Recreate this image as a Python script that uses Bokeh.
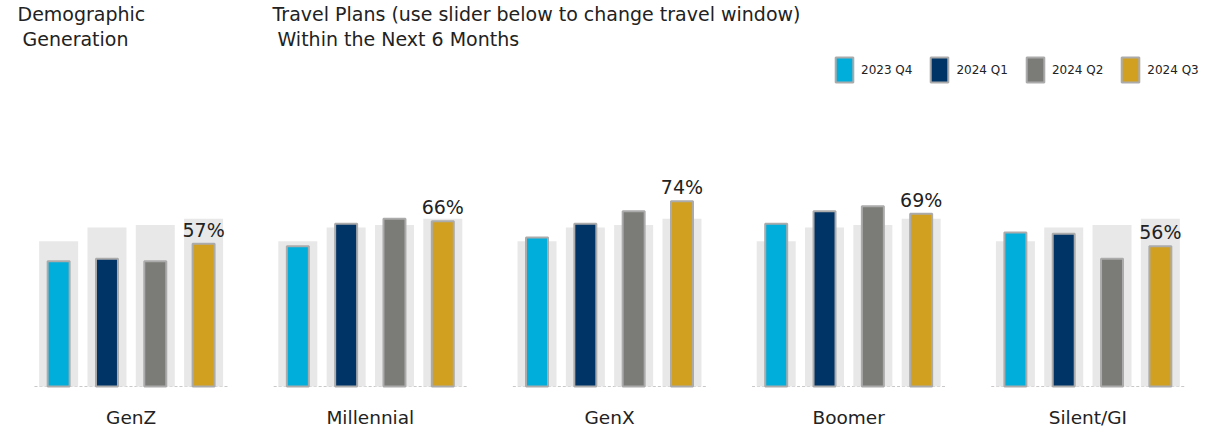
from bokeh.plotting import figure
from bokeh.models import (ColumnDataSource, FactorRange, Range1d, Label, Legend, LegendItem,
                          CategoricalAxis)
from bokeh.core.properties import value
from bokeh.embed import file_html
from bokeh.resources import INLINE

# ---- data ----
generations = ["GenZ", "Millennial", "GenX", "Boomer", "Silent/GI"]
quarters = ["2023 Q4", "2024 Q1", "2024 Q2", "2024 Q3"]
q4_2023 = [50, 56, 59.5, 65, 61.5]
q1_2024 = [51, 65, 65, 70, 61]
q2_2024 = [50, 67, 70, 72, 51]
q3_2024 = [57, 66, 74, 69, 56]
overall = [58, 63.5, 64.5, 67]   # grey reference bars (all generations), per quarter

colors = ["#00AEDB", "#003366", "#7B7C77", "#D1A021"]
series = [q4_2023, q1_2024, q2_2024, q3_2024]

FONT = "DejaVu Sans"
TXT = "#222222"

x, top, qs, cols, bg_top = [], [], [], [], []
for gi, g in enumerate(generations):
    for qi, q in enumerate(quarters):
        x.append((g, q))
        top.append(series[qi][gi])
        qs.append(q)
        cols.append(colors[qi])
        bg_top.append(overall[qi])

fg_src = ColumnDataSource(dict(x=x, top=top, quarter=qs, color=cols))
bg_src = ColumnDataSource(dict(x=x, top=bg_top))
lab_src = ColumnDataSource(dict(x=[(g, quarters[-1]) for g in generations],
                                top=q3_2024,
                                label=[f"{v:.0f}%" for v in q3_2024]))
base_src = ColumnDataSource(dict(x0=[(g, quarters[0], -0.5) for g in generations],
                                 x1=[(g, quarters[-1], 0.5) for g in generations],
                                 y0=[0] * len(generations), y1=[0] * len(generations)))

p = figure(x_range=FactorRange(*x, group_padding=0.95, factor_padding=0,
                               range_padding=0.517, range_padding_units="absolute"),
           y_range=Range1d(-2.0, 154.12),
           width=1209, height=430, output_backend="svg", toolbar_location=None,
           x_axis_location=None, y_axis_location=None,
           min_border_left=9, min_border_right=0, min_border_top=0, min_border_bottom=39)
p.outline_line_color = None
p.xgrid.visible = False
p.ygrid.visible = False
p.background_fill_color = "white"
p.border_fill_color = "white"

# generation axis (one label per group, aligned with the group centres)
p.extra_x_ranges = {"gen": FactorRange(*generations, factor_padding=3.95,
                                       range_padding=2.017, range_padding_units="absolute")}
gax = CategoricalAxis(x_range_name="gen")
gax.axis_line_color = None
gax.major_tick_line_color = None
gax.major_tick_out = 0
gax.major_tick_in = 0
gax.major_label_standoff = 15
gax.major_label_text_font = FONT
gax.major_label_text_font_size = "18.5px"
gax.major_label_text_color = TXT
p.add_layout(gax, "below")

p.segment(x0="x0", y0="y0", x1="x1", y1="y1", source=base_src,
          line_color="#C8C8C8", line_width=1, line_dash="3 2")
p.vbar(x="x", top="top", bottom=0, width=0.807, source=bg_src,
       fill_color="#E8E8E8", line_color=None)
fg = p.vbar(x="x", top="top", bottom=0, width=0.455, source=fg_src,
            fill_color="color", line_color="#ABABAB", line_width=2)
p.text(x="x", y="top", text="label", source=lab_src, text_align="center",
       text_baseline="alphabetic", y_offset=-14, text_font=value(FONT),
       text_font_size="19px", text_color=TXT)

items = [LegendItem(label=q, renderers=[fg], index=qi) for qi, q in enumerate(quarters)]
legend = Legend(items=items, location=(824, 306), orientation="horizontal",
                glyph_width=22, glyph_height=31, label_standoff=6, spacing=16,
                padding=0, margin=0, border_line_color=None, background_fill_alpha=0,
                label_text_font=FONT, label_text_font_size="12px", label_text_color=TXT)
p.add_layout(legend)

for txt, lx, ly in [("Demographic", 8, 377.5), ("Generation", 13, 352.5),
                    ("Travel Plans (use slider below to change travel window)", 263, 377.5),
                    ("Within the Next 6 Months", 268, 352.5)]:
    p.add_layout(Label(x=lx, y=ly, x_units="screen", y_units="screen", text=txt,
                       text_font=FONT, text_font_size="19px", text_color=TXT,
                       text_baseline="alphabetic"))

open("out.html", "w").write(file_html(p, INLINE))
